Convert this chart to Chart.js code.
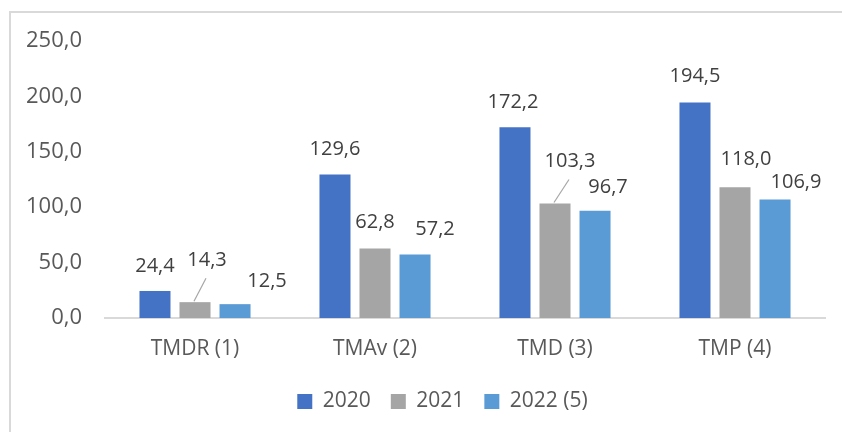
<!DOCTYPE html>
<html>
<head>
<meta charset="utf-8">
<script src="https://cdn.jsdelivr.net/npm/chart.js@4.4.0/dist/chart.umd.min.js"></script>
<style>
    html, body { margin: 0; padding: 0; background: #fff; }
    #wrap { position: relative; width: 842px; height: 432px; overflow: hidden; }
    #frame { position: absolute; left: 9px; top: 11px; width: 900px; height: 500px;
             border-left: 2px solid #d9d9d9; border-top: 2px solid #d9d9d9; }
    canvas { position: absolute; left: 0; top: 0; }
</style>
</head>
<body>
<div id="wrap">
    <div id="frame"></div>
    <canvas id="barChart" width="842" height="432"></canvas>
</div>
<script>
const categories = ['TMDR (1)', 'TMAv (2)', 'TMD (3)', 'TMP (4)'];
const seriesNames = ['2020', '2021', '2022 (5)'];
const values2020 = [24.4, 129.6, 172.2, 194.5];
const values2021 = [14.3, 62.8, 103.3, 118.0];
const values2022 = [12.5, 57.2, 96.7, 106.9];
const yTicks = [0, 50, 100, 150, 200, 250];

const colors = ['#4472C4', '#A5A5A5', '#5B9BD5'];

// nudges for the value labels (dx, dy) and which ones get a leader line
const labelNudge = [
    [[0, 0], [0, 0], [-2, 0], [0, -1]],
    [[12, -17], [0, -1], [15, -17], [11, -3]],
    [[32, 2], [20, 0], [13, 1], [21, 8]]
];
const leaderLines = [[false, false, false, false], [true, false, true, false], [false, false, false, false]];

function fmt(v) {
    return v.toFixed(1).replace('.', ',');
}

const valueLabels = {
    id: 'valueLabels',
    afterDatasetsDraw(chart) {
        const ctx = chart.ctx;
        ctx.save();
        ctx.font = '20px "Open Sans"';
        ctx.fillStyle = '#404040';
        ctx.textAlign = 'center';
        ctx.textBaseline = 'middle';
        chart.data.datasets.forEach((ds, di) => {
            const meta = chart.getDatasetMeta(di);
            meta.data.forEach((bar, i) => {
                const dx = labelNudge[di][i][0];
                const dy = labelNudge[di][i][1];
                const x = bar.x + dx;
                const y = bar.y - 25 + dy;
                ctx.fillText(fmt(ds.data[i]), x, y);
                if (leaderLines[di][i]) {
                    ctx.strokeStyle = '#a6a6a6';
                    ctx.lineWidth = 1.2;
                    ctx.beginPath();
                    ctx.moveTo(bar.x - 1, bar.y - 1);
                    ctx.lineTo(x - 1, y + 18);
                    ctx.stroke();
                }
            });
        });
        ctx.restore();
    }
};

// legend sits a bit right of the canvas centre in the original
const legendShift = {
    id: 'legendShift',
    afterLayout(chart) {
        chart.legend.left += 18;
        chart.legend.right += 18;
    }
};

const ctx = document.getElementById('barChart').getContext('2d');
new Chart(ctx, {
    type: 'bar',
    data: {
        labels: categories,
        datasets: [
            { label: seriesNames[0], data: values2020, backgroundColor: colors[0] },
            { label: seriesNames[1], data: values2021, backgroundColor: colors[1] },
            { label: seriesNames[2], data: values2022, backgroundColor: colors[2] }
        ]
    },
    options: {
        responsive: false,
        animation: false,
        layout: {
            padding: { top: 41, right: 17, bottom: 10, left: 24 }
        },
        datasets: {
            bar: { categoryPercentage: 0.667, barPercentage: 0.775 }
        },
        scales: {
            x: {
                grid: { display: false, drawTicks: false },
                border: { display: true, color: '#d9d9d9', width: 2 },
                ticks: {
                    color: '#595959',
                    font: { family: 'Open Sans', size: 21 },
                    padding: 18
                },
                afterFit: (scale) => { scale.height = 53; }
            },
            y: {
                min: 0,
                max: 250,
                grid: { display: false, drawTicks: false },
                border: { display: false },
                afterBuildTicks: (scale) => { scale.ticks = yTicks.map(v => ({ value: v })); },
                ticks: {
                    color: '#595959',
                    font: { family: 'Open Sans', size: 22 },
                    padding: 23,
                    callback: (v) => fmt(v)
                },
                afterFit: (scale) => { scale.width = 81; }
            }
        },
        plugins: {
            legend: {
                position: 'bottom',
                labels: {
                    color: '#595959',
                    font: { family: 'Open Sans', size: 21 },
                    boxWidth: 15,
                    boxHeight: 15,
                    padding: 20
                }
            },
            tooltip: { enabled: false }
        }
    },
    plugins: [valueLabels, legendShift]
});
</script>
</body>
</html>
